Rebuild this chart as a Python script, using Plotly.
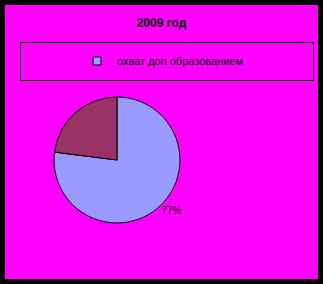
import plotly.graph_objects as go

title_text = "2009 год"
categories = ["охват доп образованием", "не охвачены"]
values = [77, 23]
slice_labels = ["77%", ""]
colors = ["#9999FF", "#993366"]

W, H = 323, 284

fig = go.Figure()

fig.add_trace(go.Pie(
    labels=categories,
    values=values,
    sort=False,
    direction="clockwise",
    rotation=0,
    marker=dict(colors=colors, line=dict(color="black", width=1)),
    text=slice_labels,
    textinfo="text",
    textposition="outside",
    outsidetextfont=dict(family="Liberation Sans, Arial", size=10, color="#000000"),
    domain=dict(x=[54 / W, 180 / W], y=[(H - 224) / H, (H - 96) / H]),
    showlegend=False,
    hoverinfo="label+percent",
))

# legend entry for the first category only
fig.add_trace(go.Scatter(
    x=[None], y=[None], mode="markers",
    name=categories[0],
    marker=dict(symbol="square", size=8, color=colors[0],
                line=dict(color="black", width=1)),
    showlegend=True,
))

fig.update_layout(
    width=W, height=H,
    margin=dict(l=0, r=0, t=0, b=0),
    paper_bgcolor="#FF00FF",
    plot_bgcolor="#FF00FF",
    xaxis=dict(visible=False),
    yaxis=dict(visible=False),
    title=dict(text="<b>" + title_text + "</b>", x=0.5, xanchor="center",
               y=1 - 23 / H, yanchor="middle",
               font=dict(family="Liberation Sans, Arial", size=12, color="black")),
    legend=dict(x=163 / W, xanchor="center", y=1 - 61 / H, yanchor="middle",
                bgcolor="rgba(0,0,0,0)", borderwidth=0,
                font=dict(family="Liberation Sans, Arial", size=11, color="black"),
                itemwidth=30),
    shapes=[
        dict(type="rect", xref="paper", yref="paper", x0=0, x1=1, y0=0, y1=1,
             line=dict(color="black", width=10), fillcolor="rgba(0,0,0,0)"),
        dict(type="rect", xref="paper", yref="paper",
             x0=20.5 / W, x1=313.5 / W, y0=1 - 80.5 / H, y1=1 - 42.5 / H,
             line=dict(color="black", width=1), fillcolor="rgba(0,0,0,0)"),
    ],
)

fig.write_html("out.html")
